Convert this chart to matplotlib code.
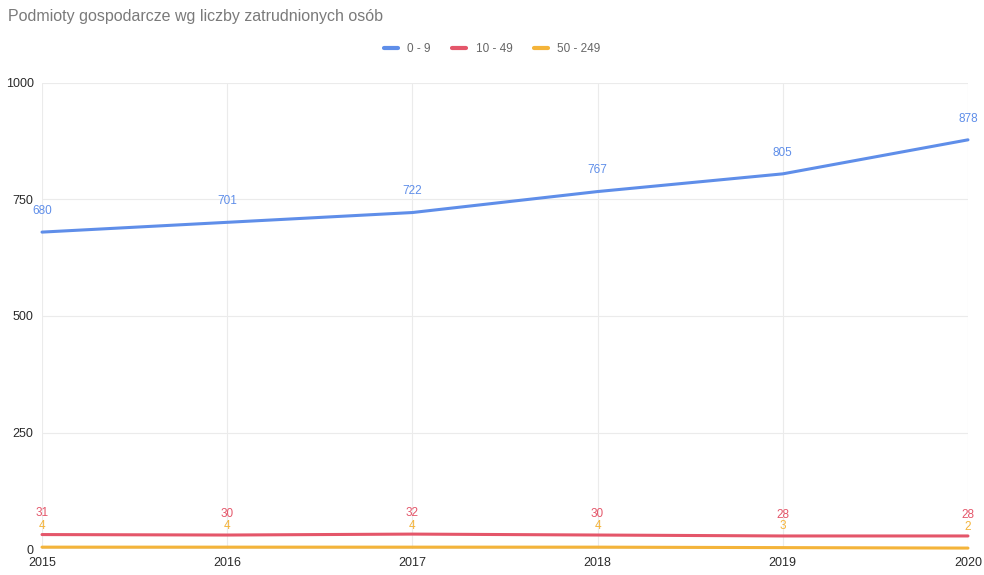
import matplotlib
matplotlib.use("Agg")
import matplotlib.pyplot as plt

plt.rcParams['font.family'] = ['Liberation Sans', 'DejaVu Sans']

years = [2015, 2016, 2017, 2018, 2019, 2020]
series_names = ["0 - 9", "10 - 49", "50 - 249"]
v_0_9 = [680, 701, 722, 767, 805, 878]
v_10_49 = [31, 30, 32, 30, 28, 28]
v_50_249 = [4, 4, 4, 4, 3, 2]
colors = ["#5f8ee9", "#e4566a", "#f4b43a"]
yticks = [0, 250, 500, 750, 1000]

fig = plt.figure(figsize=(9.84, 5.75), dpi=100)
ax = fig.add_axes([0.0427, 0.0452, 0.9410, 0.8105])
ax.set_xlim(years[0], years[-1])
ax.set_ylim(0, 1000)

for vals, c, name in zip([v_0_9, v_10_49, v_50_249], colors, series_names):
    ax.plot(years, vals, color=c, lw=2.2, label=name, solid_capstyle='round', zorder=3, clip_on=False)
    for x, v in zip(years, vals):
        ax.annotate(str(v), (x, v), xytext=(0, 11), textcoords='offset points',
                    ha='center', va='bottom', color=c, fontsize=8.5, zorder=4,
                    annotation_clip=False)

ax.set_yticks(yticks)
ax.set_xticks(years)
ax.set_xticklabels([str(y) for y in years])
ax.grid(True, color="#ebebeb", lw=0.8)
ax.axhline(0, color="#8a8a8a", lw=1, zorder=2)
for s in ax.spines.values():
    s.set_visible(False)
ax.tick_params(length=0, labelsize=9, colors="#2a2a2a")
ax.tick_params(axis='y', pad=6)
ax.tick_params(axis='x', pad=6)

fig.text(0.008, 0.972, "Podmioty gospodarcze wg liczby zatrudnionych osób",
         fontsize=11.5, color="#7a7a7a", ha='left', va='center')
leg = fig.legend(loc='center', bbox_to_anchor=(0.50, 0.915), ncol=3, frameon=False,
                 fontsize=8.5, handlelength=1.2, columnspacing=1.8, handletextpad=0.8)
for t in leg.get_texts():
    t.set_color("#666666")
for h in leg.get_lines():
    h.set_linewidth(3)

fig.savefig("out.png", dpi=100)
